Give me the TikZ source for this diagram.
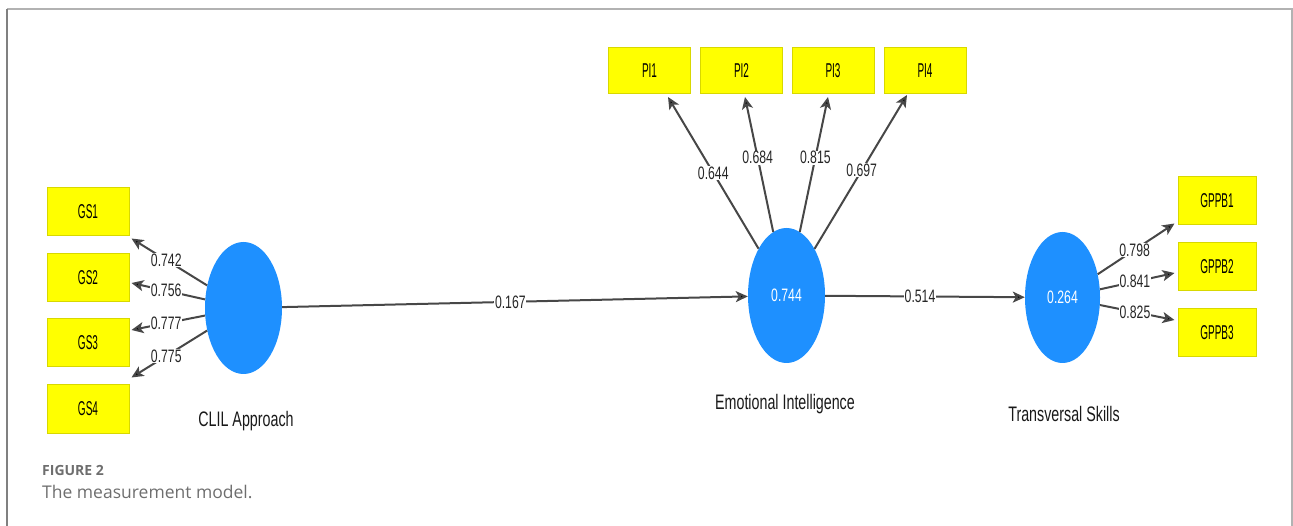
\documentclass[tikz,border=0pt]{standalone}
\usepackage{fontspec}
\setmainfont{Liberation Sans}
\newfontfamily\condA[FakeStretch=0.68]{Liberation Sans}
\newfontfamily\condB[FakeStretch=0.5]{Liberation Sans}
\newfontfamily\capfont{Open Sans}
\usetikzlibrary{shapes.geometric,arrows.meta,calc}
\definecolor{latblue}{HTML}{1E90FF}
\definecolor{indyellow}{HTML}{FFFF00}
\definecolor{indedge}{HTML}{D8D800}
\definecolor{capgray}{HTML}{6E6E6E}
\begin{document}
\begin{tikzpicture}[x=1pt,y=-1pt,
  ind/.style={rectangle, fill=indyellow, draw=indedge, line width=1pt, inner sep=0pt,
              font=\condB\fontsize{20}{22}\selectfont, text=black},
  gsbox/.style={ind, minimum width=82pt, minimum height=48pt},
  pibox/.style={ind, minimum width=82pt, minimum height=46pt},
  gpbox/.style={ind, minimum width=78pt, minimum height=48pt},
  latent/.style={ellipse, fill=latblue, draw=none, inner sep=0pt, text=white,
              font=\condA\fontsize{18}{20}\selectfont},
  lvname/.style={font=\condA\fontsize{21}{23}\selectfont, text=black!90},
  coef/.style={fill=white, inner sep=0.6pt, text=black!85,
              font=\condA\fontsize{18}{20}\selectfont},
  link/.style={draw=black!72, line width=2pt,
              -{Stealth[length=12pt,width=11pt,inset=3pt,fill=black]}},
]
\useasboundingbox (0,0) rectangle (1293,526);
% frame
\draw[draw=black!30, line width=1.5pt] (7,9) -- (1292,9) -- (1292,526);
\draw[draw=black!50, line width=1.5pt] (7,9) -- (7,526);

% indicators
\node[gsbox] (gs1) at (88,212) {GS1};
\node[gsbox] (gs2) at (88,277.5) {GS2};
\node[gsbox] (gs3) at (88,343) {GS3};
\node[gsbox] (gs4) at (88,409) {GS4};

\node[pibox] (pi1) at (649.5,70.5) {PI1};
\node[pibox] (pi2) at (741.5,70.5) {PI2};
\node[pibox] (pi3) at (833,70.5) {PI3};
\node[pibox] (pi4) at (925,70.5) {PI4};

\node[gpbox] (gp1) at (1217,201) {GPPB1};
\node[gpbox] (gp2) at (1217,267) {GPPB2};
\node[gpbox] (gp3) at (1217,332.5) {GPPB3};

% latent variables
\node[latent, minimum width=77pt, minimum height=132pt] (clil) at (243.5,308) {};
\node[latent, minimum width=77pt, minimum height=135pt] (ei) at (786.5,295.5) {0.744};
\node[latent, minimum width=75pt, minimum height=131pt] (ts) at (1062.5,297.5) {0.264};

\node[lvname] (clilname) at (246,421) {CLIL Approach};
\node[lvname] (einame) at (785,404) {Emotional Intelligence};
\node[lvname] (tsname) at (1064,414) {Transversal Skills};

% outer loadings CLIL
\draw[link] (clil) -- ($(gs1.south east)+(2,2)$) node[coef,pos=0.54] {0.742};
\draw[link] (clil) -- ($(gs2.east)+(2,5.5)$) node[coef,pos=0.53] {0.756};
\draw[link] (clil) -- ($(gs3.east)+(2,-13)$) node[coef,pos=0.53] {0.777};
\draw[link] (clil) -- ($(gs4.north east)+(2,-7)$) node[coef,pos=0.54] {0.775};

% outer loadings EI
\draw[link] (ei) -- ($(pi1.south)+(18.5,3)$) node[coef,pos=0.5] {0.644};
\draw[link] (ei) -- ($(pi2.south)+(3.5,3)$) node[coef,pos=0.55] {0.684};
\draw[link] (ei) -- ($(pi3.south)+(-5,3)$) node[coef,pos=0.55] {0.815};
\draw[link] (ei) -- ($(pi4.south)+(-18,1)$) node[coef,pos=0.51] {0.697};

% outer loadings TS
\draw[link] (ts) -- ($(gp1.south west)+(-3,-2)$) node[coef,pos=0.48] {0.798};
\draw[link] (ts) -- ($(gp2.west)+(-3,6)$) node[coef,pos=0.47] {0.841};
\draw[link] (ts) -- ($(gp3.west)+(-3,-12.5)$) node[coef,pos=0.47] {0.825};

% structural paths
\draw[link] (clil) -- (ei) node[coef,pos=0.49] {0.167};
\draw[link] (ei) -- (ts) node[coef,pos=0.475] {0.514};

% caption
\node[anchor=base west, inner sep=0pt, text=capgray, font=\capfont\bfseries\fontsize{14}{16}\selectfont] (figlabel) at (42,475) {FIGURE 2};
\node[anchor=base west, inner sep=0pt, text=capgray, font=\capfont\fontsize{17.5}{20}\selectfont] (figcap) at (42,498) {The measurement model.};
\end{tikzpicture}
\end{document}
